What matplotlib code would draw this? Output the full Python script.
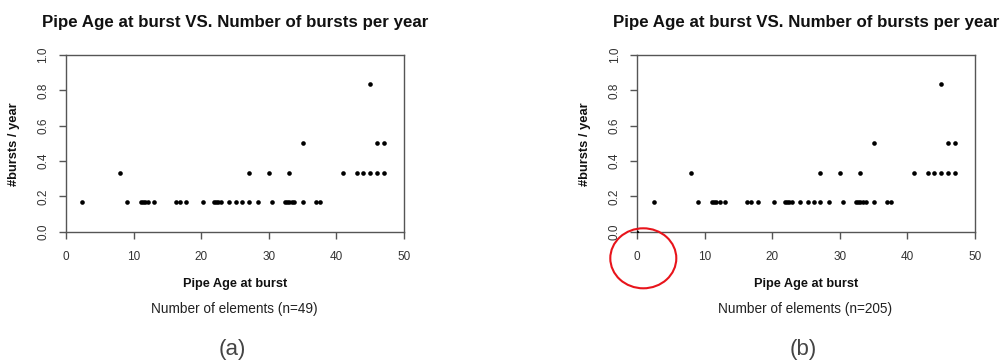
import matplotlib
matplotlib.use("Agg")
import matplotlib.pyplot as plt
from matplotlib.patches import Ellipse

W, H = 1005, 363
plt.rcParams['font.family'] = ['Liberation Sans', 'DejaVu Sans']

# Data (pipe age at burst, bursts per year)
age_r1 = [2.4, 9.0, 11.1, 11.4, 11.7, 12.2, 13.0, 16.2, 16.9, 17.8, 20.2,
          21.9, 22.2, 22.5, 22.9, 24.1, 25.2, 26.1, 27.1, 28.4, 30.5,
          32.4, 32.7, 33.0, 33.4, 33.8, 35.0, 37.0, 37.6]
age_r2 = [8.0, 27.0, 30.0, 33.0, 41.0, 43.0, 44.0, 45.0, 46.0, 47.0]
age_r3 = [35.0, 46.0, 47.0]
age_r5 = [45.0]
rate_levels = [1/6, 1/3, 1/2, 5/6]
extra_b_age = [0.0]
extra_b_rate = [0.0]

title = "Pipe Age at burst VS. Number of bursts per year"
xlabel = "Pipe Age at burst"
ylabel = "#bursts / year"
captions = ["Number of elements (n=49)", "Number of elements (n=205)"]
panel_tags = ["(a)", "(b)"]
xticks = [0, 10, 20, 30, 40, 50]
yticks = [0.0, 0.2, 0.4, 0.6, 0.8, 1.0]

fig = plt.figure(figsize=(W/100, H/100), dpi=100)

def fx(x):
    return x / W

def fy(y):
    return 1 - y / H

panels = [(66, 404), (637.3, 975)]
top, bot = 55, 231.7

for i, (l, r) in enumerate(panels):
    ax = fig.add_axes([fx(l), fy(bot), (r - l) / W, (bot - top) / H])
    groups = [age_r1, age_r2, age_r3, age_r5]
    for ages, lev in zip(groups, rate_levels):
        ax.scatter(ages, [lev] * len(ages), s=11, color='black', linewidths=0, zorder=3)
    if i == 1:
        ax.scatter(extra_b_age, extra_b_rate, s=6, color='black', linewidths=0, zorder=3)
    ax.set_xlim(0, 50)
    ax.set_ylim(0, 1)
    ax.set_xticks(xticks)
    ax.set_yticks(yticks)
    ax.set_xticklabels([str(t) for t in xticks])
    ax.set_yticklabels([f"{t:.1f}" for t in yticks], rotation=90, va='center')
    for sp in ax.spines.values():
        sp.set_color('#555555')
        sp.set_linewidth(1.0)
    ax.tick_params(axis='both', direction='out', length=5, width=1.0,
                   color='#555555', labelcolor='#333333', labelsize=8.5)
    ax.tick_params(axis='x', pad=9)
    ax.tick_params(axis='y', pad=7)

    cx = (l + r) / 2
    fig.text(fx(cx), fy(22), title, ha='center', va='center',
             fontsize=12.2, fontweight='bold', color='#111111')
    fig.text(fx(l - 52), fy((top + bot) / 2 + 1), ylabel, ha='center', va='center',
             rotation=90, fontsize=9.3, fontweight='bold', color='#111111')
    fig.text(fx(cx), fy(284.5), xlabel, ha='center', va='center',
             fontsize=9.2, fontweight='bold', color='#111111')
    fig.text(fx(cx - 1), fy(308.5), captions[i], ha='center', va='center',
             fontsize=9.8, color='#222222')
    fig.text(fx(cx - 3), fy(349), panel_tags[i], ha='center', va='center',
             fontsize=16, color='#444444')

ell = Ellipse((fx(643.3), fy(258.3)), 66 / W, 60 / H, transform=fig.transFigure,
              fill=False, edgecolor='#e8141b', linewidth=1.5)
fig.add_artist(ell)

fig.savefig("out.png", dpi=100)
